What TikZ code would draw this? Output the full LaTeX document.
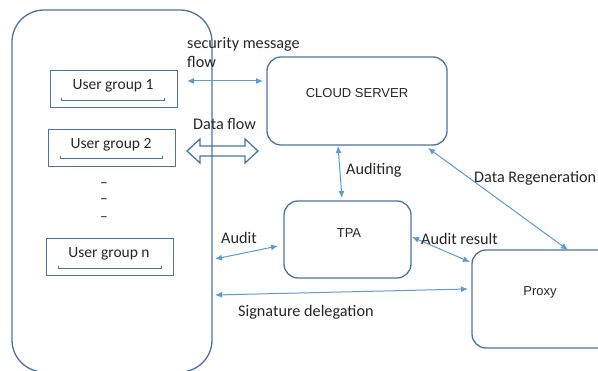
\documentclass[tikz,border=0pt]{standalone}
\usepackage{fontspec}
\setmainfont{Carlito}
\newfontfamily\boxfont{Liberation Sans}
\usetikzlibrary{arrows.meta}
\definecolor{boxblue}{HTML}{4A74A0}
\definecolor{arrblue}{HTML}{5B9BD5}
\begin{document}
\begin{tikzpicture}[x=1pt,y=-1pt,
  rbox/.style={draw=boxblue,line width=1.3pt,rounded corners=14pt,inner sep=0pt},
  ugbox/.style={draw=boxblue,line width=1pt,inner sep=0pt,minimum width=127pt,minimum height=37pt},
  ugtext/.style={font=\fontsize{15.5}{18}\selectfont,inner sep=0pt,text=black!85},
  lbl/.style={font=\fontsize{16.2}{19}\selectfont,inner sep=0pt,anchor=west,text=black!85},
  btext/.style={font=\boxfont\fontsize{13}{15}\selectfont,inner sep=0pt,text=black!85},
  flow/.style={draw=arrblue,line width=1pt,{Latex[length=7pt,width=6pt]}-{Latex[length=7pt,width=6pt]}},
  uline/.style={draw=boxblue,line width=0.9pt}
]
\useasboundingbox (0,0) rectangle (598,371);
% hollow data flow arrow (drawn first, container edge crosses it)
\draw[draw=boxblue,line width=1.3pt,line join=miter]
  (187,151) -- (200,139) -- (200,146) -- (245,146) -- (245,139) -- (258,151)
  -- (245,163) -- (245,156) -- (200,156) -- (200,163) -- cycle;
% container
\node[draw=boxblue,line width=1.3pt,rounded corners=32pt,minimum width=200pt,minimum height=362pt,inner sep=0pt] (users) at (112,191) {};
% user groups
\node[ugbox] (ug1) at (113.5,89.5) {};
\node[ugtext] at (113,86) {User group 1};
\draw[uline] (61,98) -- (61,100) -- (164,100) -- (164,98);
\node[ugbox] (ug2) at (111.5,148) {};
\node[ugtext] at (111,145) {User group 2};
\draw[uline] (60,156) -- (60,158) -- (162,158) -- (162,156);
\node[ugtext] (d1) at (104,185) {–};
\node[ugtext] (d2) at (104,201) {–};
\node[ugtext] (d3) at (104,219) {–};
\node[ugbox] (ugn) at (109.5,257) {};
\node[ugtext] at (109,254) {User group n};
\draw[uline] (58,266) -- (58,268) -- (161,268) -- (161,266);
% main boxes
\node[rbox,minimum width=180pt,minimum height=88pt] (cloud) at (357,101) {};
\node[btext] at (357,93) {CLOUD SERVER};
\node[rbox,minimum width=127pt,minimum height=77pt] (tpa) at (347.5,239.5) {};
\node[btext] at (349,233) {TPA};
\begin{scope}
\clip (0,0) rectangle (598,371);
\node[rbox,minimum width=170pt,minimum height=98pt] (proxy) at (557,299) {};
\end{scope}
\node[btext] at (540,292) {Proxy};
% connector end points
\coordinate (smL) at (187,81);
\coordinate (smR) at (263,81);
\coordinate (auL) at (215,259);
\coordinate (auR) at (278,246);
\coordinate (sgL) at (215,295);
\coordinate (sgR) at (468,289);
\coordinate (csT) at (338,146);
\coordinate (tpT) at (342,198);
\coordinate (drA) at (428,148);
\coordinate (drB) at (568,250);
\coordinate (arA) at (412,237);
\coordinate (arB) at (470,262);
% arrows
\draw[flow] (smL) -- (smR);
\draw[flow] (csT) -- (tpT);
\draw[flow] (drA) -- (drB);
\draw[flow] (auL) -- (auR);
\draw[flow] (arA) -- (arB);
\draw[flow] (sgL) -- (sgR);
% labels
\node[lbl,align=left,anchor=north west] at (187,37) {security message\\flow};
\node[lbl] at (193,124) {Data flow};
\node[lbl] at (346,170) {Auditing};
\node[lbl] at (474,178) {Data Regeneration};
\node[lbl] at (221,238) {Audit};
\node[lbl] at (421,239) {Audit result};
\node[lbl] at (238,312) {Signature delegation};
\end{tikzpicture}
\end{document}
